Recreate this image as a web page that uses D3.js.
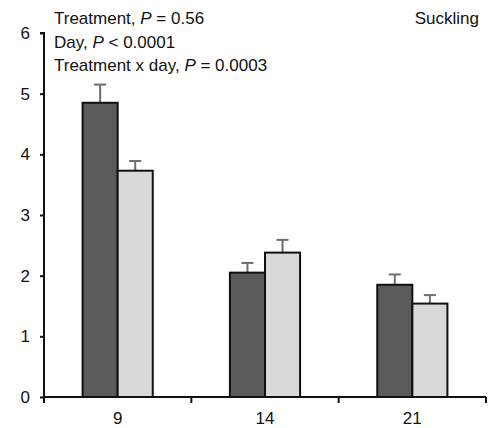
<!DOCTYPE html>
<html>
<head>
<meta charset="utf-8">
<script src="https://cdn.jsdelivr.net/npm/d3@7"></script>
<style>
  html, body { margin: 0; padding: 0; background: #fff; }
  svg { display: block; font-family: "Liberation Sans", Arial, sans-serif; }
</style>
</head>
<body>
<svg id="chart" width="490" height="428"></svg>
<script>
// Days of suckling measurement
const days = ["9", "14", "21"];
// Two treatment groups: means and standard errors
const groups = ["control", "treated"];
const darkMeans = [4.85, 2.05, 1.85];
const darkSE = [0.30, 0.16, 0.17];
const lightMeans = [3.73, 2.38, 1.54];
const lightSE = [0.16, 0.21, 0.14];
const yTicks = [0, 1, 2, 3, 4, 5, 6];
const statLines = [
  ["Treatment, ", "P", " = 0.56"],
  ["Day, ", "P", " < 0.0001"],
  ["Treatment x day, ", "P", " = 0.0003"]
];
const panelTitle = "Suckling";

const fills = { control: "#5b5b5b", treated: "#d9d9d9" };
const FS = 17;

const svg = d3.select("#chart");
const margin = { left: 44, right: 4, top: 33, bottom: 31 };
const W = 490, H = 428;

const x = d3.scaleBand().domain(days).range([margin.left, W - margin.right]);
const y = d3.scaleLinear().domain([0, 6]).range([H - margin.bottom, margin.top]);
const xInner = d3.scaleBand().domain(groups)
  .range([0, x.bandwidth()]).paddingInner(0).paddingOuter(1.1);

const rows = days.map((d, i) => [
  { day: d, g: "control", v: darkMeans[i], se: darkSE[i] },
  { day: d, g: "treated", v: lightMeans[i], se: lightSE[i] }
]).flat();

// Error bars (drawn below bars so stems start at the bar top)
const eb = svg.append("g").attr("stroke", "#6e6e6e").attr("stroke-width", 2);
rows.forEach(r => {
  const cx = x(r.day) + xInner(r.g) + xInner.bandwidth() / 2;
  eb.append("line").attr("x1", cx).attr("x2", cx).attr("y1", y(r.v)).attr("y2", y(r.v + r.se));
  eb.append("line").attr("x1", cx - 6).attr("x2", cx + 6).attr("y1", y(r.v + r.se)).attr("y2", y(r.v + r.se));
});

// Bars
svg.append("g").selectAll("rect").data(rows).join("rect")
  .attr("x", r => x(r.day) + xInner(r.g))
  .attr("y", r => y(r.v))
  .attr("width", xInner.bandwidth())
  .attr("height", r => y(0) - y(r.v))
  .attr("fill", r => fills[r.g])
  .attr("stroke", "#111")
  .attr("stroke-width", 2);

// Y axis
const yAxis = svg.append("g").attr("transform", `translate(${margin.left},0)`)
  .call(d3.axisLeft(y).tickValues(yTicks).tickSize(4).tickPadding(10).tickFormat(d3.format("d")));
yAxis.select(".domain").attr("stroke", "#111").attr("stroke-width", 2).attr("d", `M-4,${y(6)}H0V${y(0)}`);
yAxis.selectAll(".tick line").attr("stroke", "#111").attr("stroke-width", 2);
yAxis.selectAll("text").attr("font-size", FS).attr("fill", "#111").attr("font-family", "Liberation Sans, Arial, sans-serif");

// X axis: ticks at band boundaries
const xAxisG = svg.append("g").attr("transform", `translate(0,${y(0)})`);
xAxisG.append("line").attr("x1", margin.left).attr("x2", W - margin.right)
  .attr("stroke", "#111").attr("stroke-width", 2);
const bounds = days.map(d => x(d)).concat([x(days[days.length - 1]) + x.bandwidth()]);
xAxisG.selectAll("line.tk").data(bounds).join("line").attr("class", "tk")
  .attr("x1", d => d).attr("x2", d => d).attr("y1", 0).attr("y2", 6)
  .attr("stroke", "#111").attr("stroke-width", 2);
xAxisG.selectAll("text").data(days).join("text")
  .attr("x", d => x(d) + x.bandwidth() / 2).attr("y", 26.5)
  .attr("text-anchor", "middle").attr("font-size", FS).attr("fill", "#111")
  .text(d => d);

// Statistics text
const stat = svg.append("g").attr("font-size", FS).attr("fill", "#111");
statLines.forEach((parts, i) => {
  const t = stat.append("text").attr("x", 54).attr("y", 24 + i * 23.5);
  parts.forEach(p => {
    const s = t.append("tspan").text(p);
    if (p === "P") s.attr("font-style", "italic");
  });
});

svg.append("text").attr("x", 479).attr("y", 24).attr("text-anchor", "end")
  .attr("font-size", FS).attr("fill", "#111").text(panelTitle);
</script>
</body>
</html>
